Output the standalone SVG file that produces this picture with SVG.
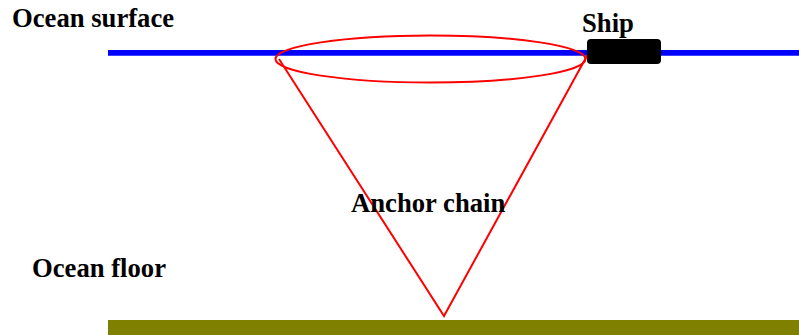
<svg xmlns="http://www.w3.org/2000/svg" width="799" height="335" viewBox="0 0 799 335">
<style>
.lbl{font-family:"Liberation Serif","Times New Roman",serif;font-weight:bold;font-size:26.67px;fill:#000}
.chain{fill:none;stroke:#ff0000;stroke-width:2}
</style>
<rect width="799" height="335" fill="#fff"/>
<g id="ocean-surface">
<line x1="108" y1="52.8" x2="799" y2="52.8" stroke="#0000ff" stroke-width="5.7"/>
<text class="lbl" x="12" y="27">Ocean surface</text>
</g>
<g id="ocean-floor">
<rect x="108" y="320" width="691" height="15" fill="#808000"/>
<text class="lbl" x="32" y="277">Ocean floor</text>
</g>
<g id="connectors">
<ellipse class="chain" cx="430.5" cy="59" rx="155" ry="23.5" stroke-width="1.8"/>
<polyline class="chain" points="279,59 444,316 588,54"/>
</g>
<g id="ship">
<rect x="587" y="39" width="74" height="25" rx="4" ry="4" fill="#000"/>
<text class="lbl" x="582" y="32">Ship</text>
</g>
<g id="anchor-chain">
<text class="lbl" x="351" y="212">Anchor chain</text>
</g>
</svg>
